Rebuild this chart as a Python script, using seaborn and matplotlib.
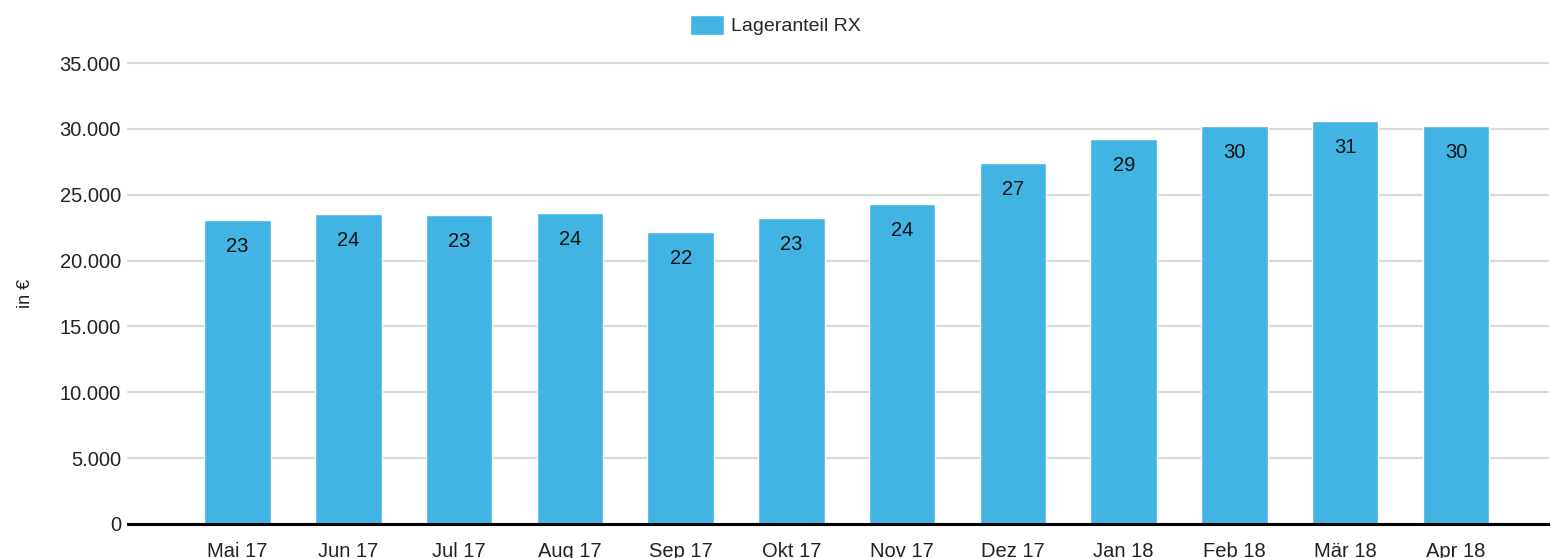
import matplotlib
matplotlib.use("Agg")
import matplotlib.pyplot as plt
import seaborn as sns
import pandas as pd

# values
months = ["Mai 17", "Jun 17", "Jul 17", "Aug 17", "Sep 17", "Okt 17",
          "Nov 17", "Dez 17", "Jan 18", "Feb 18", "Mär 18", "Apr 18"]
lageranteil = [23090, 23570, 23470, 23620, 22180, 23260,
               24300, 27430, 29230, 30220, 30600, 30220]
yticks = [0, 5000, 10000, 15000, 20000, 25000, 30000, 35000]
ytick_labels = ["0", "5.000", "10.000", "15.000", "20.000", "25.000", "30.000", "35.000"]

df = pd.DataFrame({"Monat": months, "Wert": lageranteil})

sns.set_style("white")
plt.rcParams["font.family"] = ["Liberation Sans", "DejaVu Sans"]

bar_color = "#42b4e4"

fig = plt.figure(figsize=(15.51, 5.58), dpi=100)
ax = fig.add_axes([0.0825, 0.061, 0.9155, 0.826])

sns.barplot(data=df, x="Monat", y="Wert", color=bar_color, width=0.6,
            saturation=1, ax=ax, label="Lageranteil RX")

ax.set_ylim(0, 35000)
ax.set_xlim(-0.99, 11.83)
ax.set_yticks(yticks)
ax.set_yticklabels(ytick_labels)
ax.yaxis.grid(True, color="#d9d9d9", linewidth=1.6)
for gl in ax.get_ygridlines():
    gl.set_clip_on(False)
ax.set_axisbelow(True)
for side in ["top", "right", "left"]:
    ax.spines[side].set_visible(False)
ax.spines["bottom"].set_color("black")
ax.spines["bottom"].set_linewidth(2.2)
ax.spines["bottom"].set_zorder(5)
ax.tick_params(axis="both", length=0, labelsize=14.5, colors="#222222")
ax.tick_params(axis="x", pad=13)
ax.tick_params(axis="y", pad=5)
ax.set_xlabel("")
ax.set_ylabel("in €", fontsize=13, color="#222222")
ax.yaxis.set_label_coords(-0.066, 0.5)

labels = [str(round(v / 1000)) for v in lageranteil]
ax.bar_label(ax.containers[0], labels=labels, padding=-26, fontsize=14.5,
             color="#111111")

ax.legend(loc="upper center", bbox_to_anchor=(0.5, 1.005), bbox_transform=fig.transFigure,
          frameon=False, fontsize=14, handlelength=1.75, handleheight=1.2,
          handletextpad=0.35)

fig.savefig("out.png", dpi=100)
